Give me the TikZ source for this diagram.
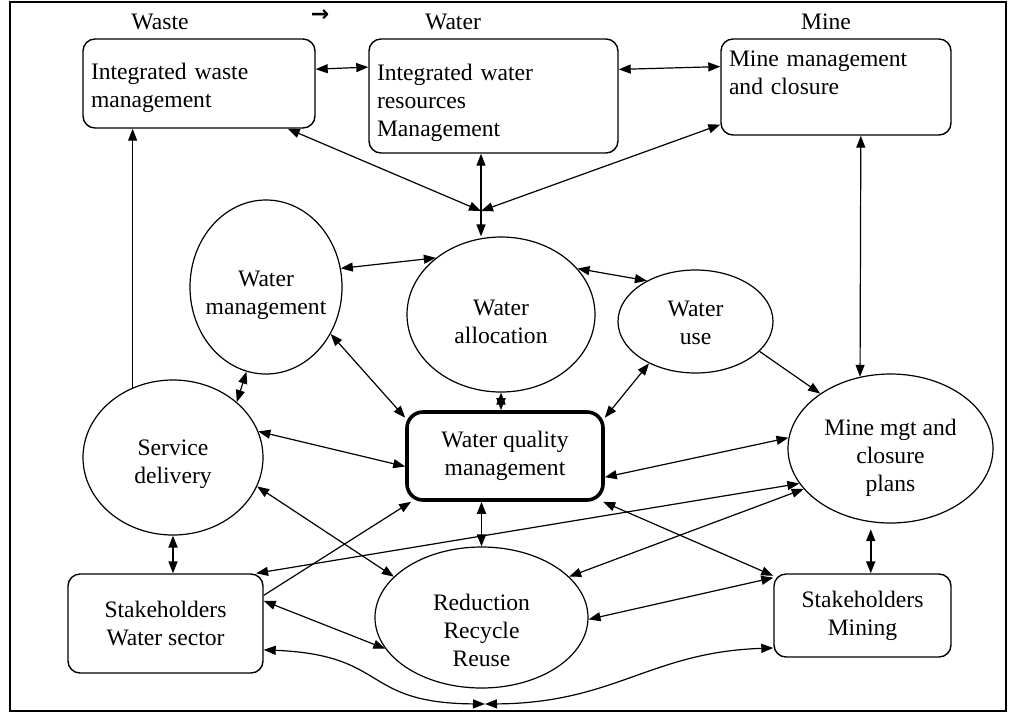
\documentclass[tikz,border=0pt]{standalone}
\usepackage{fontspec}
\setmainfont{Liberation Serif}
\newfontfamily\symfont{DejaVu Sans}
\usetikzlibrary{shapes.geometric,arrows.meta}

\begin{document}
\begin{tikzpicture}[x=0.5pt, y=-0.5pt, font=\fontsize{11.8}{14}\selectfont,
		>={Triangle[length=6pt,width=4.5pt]},
		block/.style={draw, rounded corners=6pt, line width=0.7pt, align=left, inner sep=4pt},
		bubble/.style={ellipse, draw, line width=0.6pt, inner sep=0pt},
		txt/.style={align=center, yshift=#1},
		link/.style={<->, line width=0.6pt}]

		  \useasboundingbox (0,0) rectangle (1013,714);
		  \draw[line width=1.2pt] (10,2) rectangle (1006,711);

		  % Top labels
		  \node (waste) at (160,22) {Waste};
		  \node (water) at (453,22) {Water};
		  \node (mine) at (826,22) {Mine};
		  \node[font=\symfont\bfseries\fontsize{11}{11}\selectfont] (sign) at (320,16) {→};

		  % Top boxes
		  \node[block, minimum width=116pt, minimum height=44.5pt,
		    label={[txt=-2pt, align=left, text width=108pt]center:Integrated waste\\management}] (iwm) at (199,83.5) {};
		  \node[block, minimum width=124.5pt, minimum height=57pt,
		    label={[txt=-3.5pt, align=left, text width=116.5pt]center:Integrated water\\resources\\Management}] (iwrm) at (493.5,96) {};
		  \node[block, minimum width=115pt, minimum height=48pt, text width=107pt] (mmc) at (836,87) {Mine management\\and closure\\\mbox{}};

		  % Circles
		  \node[bubble, minimum width=76pt, minimum height=87pt, label={[txt=-4pt]center:Water\\management}] (wmgmt) at (266,287) {};
		  \node[bubble, minimum width=94pt, minimum height=77.5pt, label={[txt=-3.5pt]center:Water\\allocation}] (alloc) at (501,314.5) {};
		  \node[bubble, minimum width=77.5pt, minimum height=51.5pt, label={[txt=-0.5pt]center:Water\\use}] (wuse) at (695.5,321.5) {};
		  \node[bubble, minimum width=90pt, minimum height=77.5pt, label={[txt=-3.5pt]center:Service\\delivery}] (service) at (173,457.5) {};
		  \node[bubble, minimum width=102.5pt, minimum height=74.5pt, label={[txt=-4.5pt]center:Mine mgt and\\closure\\plans}] (mgtplans) at (890.5,448.5) {};
		  \node[bubble, minimum width=106.5pt, minimum height=70.5pt, label={[txt=-6.5pt]center:Reduction\\Recycle\\Reuse}] (rrr) at (481.5,617.5) {};

		  % Middle and bottom boxes
		  \node[block, align=center, line width=1.8pt, rounded corners=8pt, minimum width=98pt, minimum height=44pt] (wqm) at (505,456) {Water quality\\management};
		  \node[block, align=center, minimum width=97.5pt, minimum height=49.5pt] (stakews) at (165.5,623.5) {Stakeholders\\Water sector};
		  \node[block, align=center, minimum width=88.5pt, minimum height=41.5pt] (stakemin) at (862.5,615.5) {Stakeholders\\Mining};

		  \coordinate (jn) at (481,211);
		  \coordinate (bot) at (485,704);

		  % Top edges
		  \draw[link] (iwm.7.6) -- (iwrm.167.3);
		  \draw[link] (iwrm.12.7) -- (mmc.170.6);
		  \draw[link] (iwm.-27.9) -- (jn);
		  \draw[link] (mmc.198.3) -- (jn);
		  \draw[<-, line width=0.6pt] (iwrm.south -| jn) -- (jn);
		  \draw[->, line width=0.6pt] (jn) -- (jn |- alloc.north);
		  \draw[->, line width=0.6pt] (service.120) -- (service.120 |- iwm.south);
		  \draw[link] (mmc.-63.4) -- (mgtplans.113.2);

		  % Edges between the circles
		  \draw[link] (wmgmt.14.8) -- (alloc.139.8);
		  \draw[link] (alloc.31) -- (wuse.140.8);
		  \draw[link] (wmgmt.257.1) -- (service.41.8);
		  \draw[->, line width=0.6pt] (wuse.-25.3) -- (mgtplans.142.8);

		  % Edges to water quality management
		  \draw[link, line width=0.9pt] (alloc.south) -- (alloc.south |- wqm.north);
		  \draw[link] (wmgmt.-36.7) -- (wqm.159.8);
		  \draw[link] (wuse.222.4) -- (wqm.21.2);
		  \draw[link] (service.17.9) -- (wqm.186.4);
		  \draw[link] (wqm.-12.1) -- (mgtplans.174);
		  \draw[->, line width=0.6pt] (stakews.16.3) -- (wqm.206.6);
		  \draw[link, line width=0.9pt] (rrr.north |- wqm.south) -- (rrr.north);
		  \draw[link] (wqm.-25.3) -- (stakemin.156.5);

		  % Bottom edges
		  \draw[link] (service.-19.1) -- (rrr.155.6);
		  \draw[link, line width=0.9pt] (service.south) -- (service.south |- stakews.north);
		  \draw[link] (stakews.29.8) -- (mgtplans.201.5);
		  \draw[link] (stakews.13.6) -- (rrr.198.6);
		  \draw[link] (rrr.25.4) -- (mgtplans.205.6);
		  \draw[link] (rrr.-1.3) -- (stakemin.157);
		  \draw[link, line width=0.9pt, shorten <=3.5pt] (mgtplans.-105.7) -- (mgtplans.-105.7 |- stakemin.north);
		  \draw[link] (stakews.-15.2) .. controls (390,655) and (360,703) .. (bot);
		  \draw[link] (stakemin.200.7) .. controls (650,652) and (615,703) .. (bot);

		\end{tikzpicture}
\end{document}
